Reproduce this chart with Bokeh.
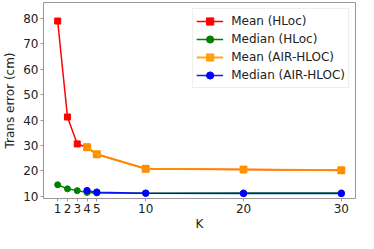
from bokeh.plotting import figure
from bokeh.models import FixedTicker, Range1d, Legend, LegendItem
from bokeh.embed import file_html
from bokeh.resources import INLINE

k_hloc = [1, 2, 3, 4, 5, 10, 20, 30]
mean_hloc = [79.0, 41.2, 30.6, 29.3, 26.5, 20.8, 20.5, 20.2]
median_hloc = [14.5, 12.9, 12.2, 11.5, 11.3, 11.2, 11.3, 11.3]
k_air = [4, 5, 10, 20, 30]
mean_air = [29.3, 26.5, 20.8, 20.5, 20.2]
median_air = [12.2, 11.6, 11.2, 11.1, 11.1]
x_ticks = [1, 2, 3, 4, 5, 10, 20, 30]
y_ticks = [10, 20, 30, 40, 50, 60, 70, 80]

FONT = "DejaVu Sans"
p = figure(width=358, height=233, output_backend="svg", toolbar_location=None,
           x_range=Range1d(-0.45, 31.45), y_range=Range1d(9.1, 86.3),
           min_border_top=2, min_border_right=3, min_border_left=0, min_border_bottom=0)
p.grid.visible = False
p.outline_line_color = "#999999"
p.outline_line_width = 1
p.background_fill_color = "white"
p.border_fill_color = "white"

for ax in (p.xaxis[0], p.yaxis[0]):
    ax.axis_line_color = None
    ax.major_tick_line_color = "#999999"
    ax.major_tick_out = 3
    ax.major_tick_in = 0
    ax.minor_tick_line_color = None
    ax.major_label_text_font = FONT
    ax.major_label_text_font_size = "12px"
    ax.major_label_text_color = "#222222"
    ax.axis_label_text_font = FONT
    ax.axis_label_text_font_size = "12px"
    ax.axis_label_text_font_style = "normal"
    ax.axis_label_text_color = "#222222"
    ax.major_label_standoff = 2

p.xaxis.ticker = FixedTicker(ticks=x_ticks)
p.yaxis.ticker = FixedTicker(ticks=y_ticks)
p.xaxis.axis_label = "K"
p.yaxis.axis_label = "Trans error (cm)"
p.xaxis.axis_label_standoff = 1
p.yaxis.axis_label_standoff = 3

r1l = p.line(k_hloc, mean_hloc, line_color="red", line_width=1.5)
r1m = p.scatter(k_hloc, mean_hloc, marker="square", size=6, color="red")
r2l = p.line(k_hloc, median_hloc, line_color="green", line_width=1.5)
r2m = p.scatter(k_hloc, median_hloc, marker="circle", size=6, color="green")
r3l = p.line(k_air, mean_air, line_color="#ff9a00", line_width=2, alpha=0.85)
r3m = p.scatter(k_air, mean_air, marker="square", size=7, color="#ff9a00", alpha=0.9)
r4l = p.line(k_air, median_air, line_color="blue", line_width=1.5, alpha=0.9)
r4m = p.scatter(k_air, median_air, marker="circle", size=6.5, color="blue")

legend = Legend(items=[
    LegendItem(label="Mean (HLoc)", renderers=[r1l, r1m]),
    LegendItem(label="Median (HLoc)", renderers=[r2l, r2m]),
    LegendItem(label="Mean (AIR-HLOC)", renderers=[r3l, r3m]),
    LegendItem(label="Median (AIR-HLOC)", renderers=[r4l, r4m]),
], location="top_right")
legend.label_text_font = FONT
legend.label_text_font_size = "12px"
legend.label_text_color = "#222222"
legend.border_line_color = "#dddddd"
legend.background_fill_alpha = 0.8
legend.glyph_width = 27
legend.glyph_height = 18
legend.spacing = 0
legend.padding = 3
legend.margin = 6
legend.label_standoff = 8
legend.label_height = 18
p.add_layout(legend)

open("out.html", "w").write(file_html(p, INLINE))
